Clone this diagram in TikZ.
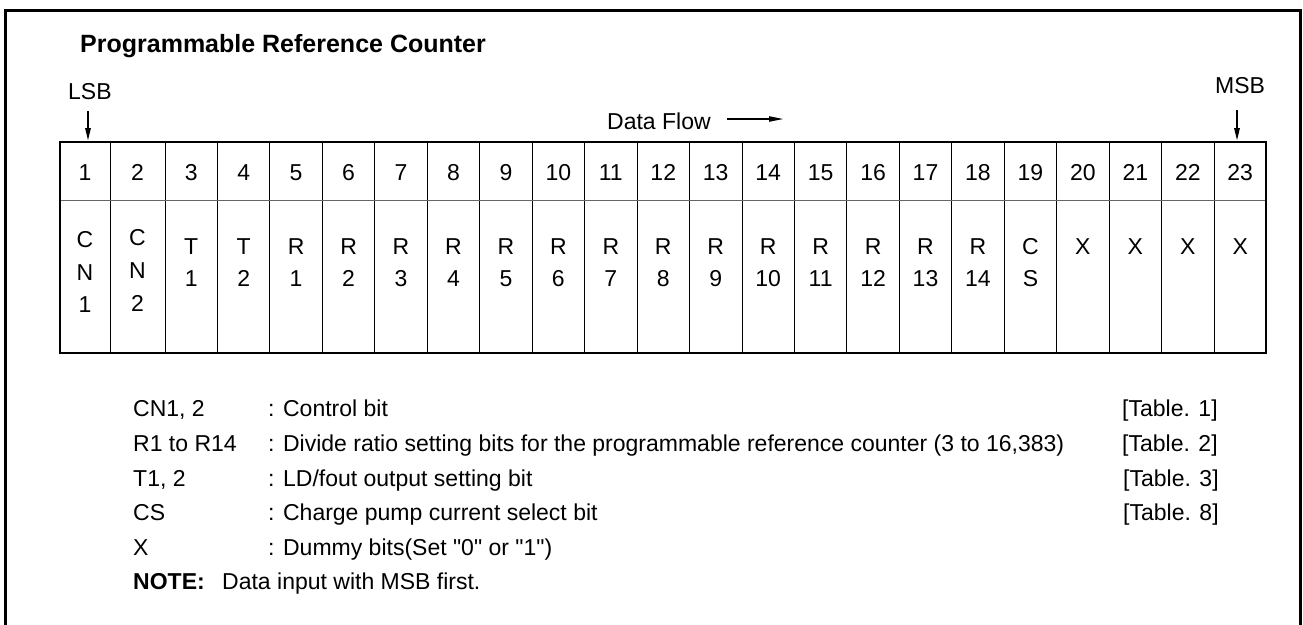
\documentclass[tikz,border=0pt]{standalone}
\usepackage{fontspec}
\setmainfont{Liberation Sans}[Ligatures=TeXOff]
\usetikzlibrary{arrows.meta}
\begin{document}
\begin{tikzpicture}[x=1pt,y=-1pt,
  txt/.style={inner sep=0pt, font=\fontsize{23}{27}\selectfont},
  ttl/.style={inner sep=0pt, font=\fontsize{25}{29}\selectfont\bfseries},
  frame/.style={line width=3pt},
  outer/.style={line width=2pt},
  inner/.style={line width=0.9pt},
  divider/.style={line width=1pt, draw=black!60},
  bitarrow/.style={line width=2.6pt, -{Triangle[length=14pt,width=5pt]}},
  flowarrow/.style={line width=2pt, -{Triangle[length=15pt,width=5pt]}}
]
\useasboundingbox (0,0) rectangle (1303,624);
% outer frame (open at the bottom)
\draw[frame] (5,626) -- (5,10) -- (1300,10) -- (1300,626);

% title
\node[ttl, anchor=base west] (title) at (80,52) {Programmable Reference Counter};

% table grid
\draw[inner] (110,142) -- (110,353);
\foreach \k in {0,...,19} {
  \pgfmathsetmacro\lx{165+52.45*\k}
  \draw[inner] (\lx,142) -- (\lx,353);
}
\draw[inner] (1214,142) -- (1214,353);
\draw[divider] (60,200.7) -- (1266,200.7);
\draw[outer] (60,142) rectangle (1266,353);

% bit numbers
\node[txt, anchor=base] (n1) at (85,180) {1};
\node[txt, anchor=base] (n2) at (137.5,180) {2};
\foreach \i in {3,...,23} {
  \pgfmathsetmacro\cx{191.225+52.45*(\i-3)}
  \node[txt, anchor=base] (n\i) at (\cx,180) {\i};
}

% bit names
\node[txt, anchor=base] (a1) at (85,247) {C};
\node[txt, anchor=base] (b1) at (85,280) {N};
\node[txt, anchor=base] (c1) at (85,312) {1};
\node[txt, anchor=base] (a2) at (137.5,245) {C};
\node[txt, anchor=base] (b2) at (137.5,278) {N};
\node[txt, anchor=base] (c2) at (137.5,311) {2};
\foreach \i/\a/\b in {3/T/1,4/T/2,5/R/1,6/R/2,7/R/3,8/R/4,9/R/5,10/R/6,11/R/7,12/R/8,13/R/9,14/R/10,15/R/11,16/R/12,17/R/13,18/R/14,19/C/S} {
  \pgfmathsetmacro\cx{191.225+52.45*(\i-3)}
  \node[txt, anchor=base] (a\i) at (\cx,254) {\a};
  \node[txt, anchor=base] (b\i) at (\cx,286) {\b};
}
\foreach \i in {20,...,23} {
  \pgfmathsetmacro\cx{191.225+52.45*(\i-3)}
  \node[txt, anchor=base] (a\i) at (\cx,254) {X};
}

% LSB / MSB markers
\node[txt, anchor=base west] (lsb) at (68,99) {LSB};
\coordinate (lsbstart) at (88,111);
\coordinate (lsbend) at (88,142);
\draw[bitarrow] (lsbstart) -- (lsbend);
\node[txt, anchor=base west] (msb) at (1215,93) {MSB};
\coordinate (msbstart) at (1237,110);
\coordinate (msbend) at (1237,142);
\draw[bitarrow] (msbstart) -- (msbend);

% data flow
\node[txt, anchor=base west] (flow) at (607,129) {Data Flow};
\coordinate (flowstart) at (727,119);
\coordinate (flowend) at (784,119);
\draw[flowarrow] (flowstart) -- (flowend);

% legend
\node[txt, anchor=base west] (k1) at (133,416.7) {CN1, 2};
\node[txt, anchor=base west] (d1) at (268,416.7) {: Control bit};
\node[txt, anchor=base west] (t1) at (1122,416.7) {[Table. 1]};
\node[txt, anchor=base west] (k2) at (133,451.7) {R1 to R14};
\node[txt, anchor=base west] (d2) at (268,451.7) {: Divide ratio setting bits for the programmable reference counter (3 to 16,383)};
\node[txt, anchor=base west] (t2) at (1122,451.7) {[Table. 2]};
\node[txt, anchor=base west] (k3) at (133,486) {T1, 2};
\node[txt, anchor=base west] (d3) at (268,486) {: LD/fout output setting bit};
\node[txt, anchor=base west] (t3) at (1123,486) {[Table. 3]};
\node[txt, anchor=base west] (k4) at (133,520) {CS};
\node[txt, anchor=base west] (d4) at (268,520) {: Charge pump current select bit};
\node[txt, anchor=base west] (t4) at (1123,520) {[Table. 8]};
\node[txt, anchor=base west] (k5) at (133,555) {X};
\node[txt, anchor=base west] (d5) at (268,555) {: Dummy bits(Set "0" or "1")};
\node[txt, anchor=base west, font=\fontsize{23}{27}\selectfont\bfseries] (note) at (133,589) {NOTE:};
\node[txt, anchor=base west] (notetext) at (222,589) {Data input with MSB first.};
\end{tikzpicture}
\end{document}
